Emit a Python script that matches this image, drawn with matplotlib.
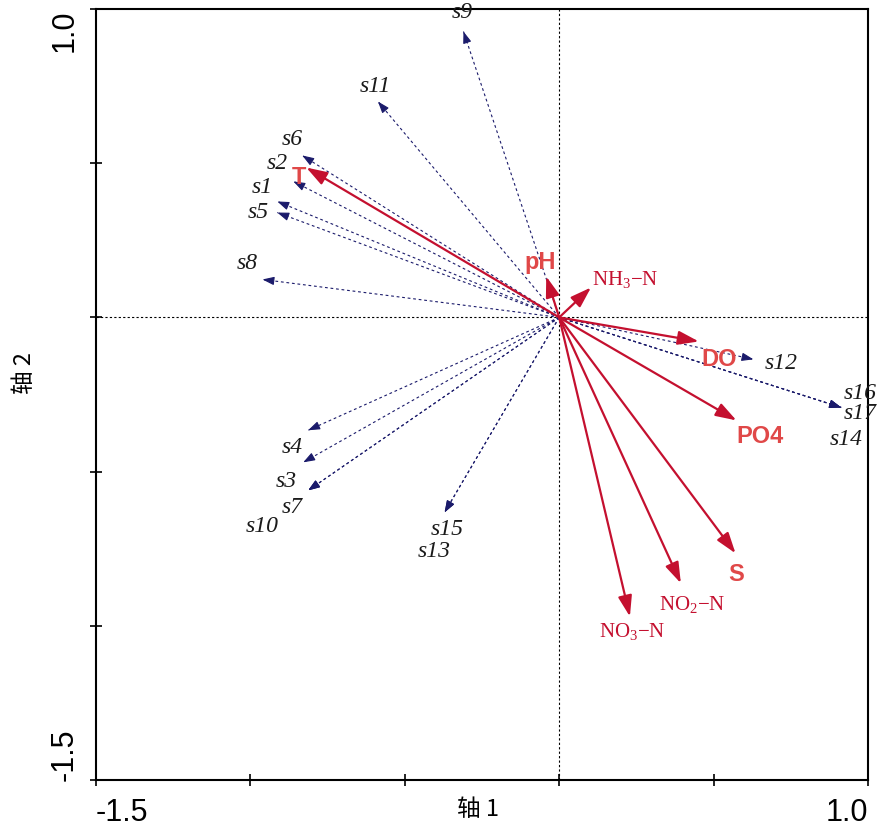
import matplotlib
matplotlib.use("Agg")
import matplotlib.pyplot as plt
import numpy as np

plt.rcParams['font.family'] = ['Liberation Sans', 'DejaVu Sans']
plt.rcParams['mathtext.fontset'] = 'custom'
plt.rcParams['mathtext.rm'] = 'Liberation Serif'
plt.rcParams['mathtext.it'] = 'Liberation Serif:italic'

# sample scores (tip of the dashed arrows)
sites = ['s1', 's2', 's3', 's4', 's5', 's6', 's7', 's8', 's9', 's10',
         's11', 's12', 's13', 's14', 's15', 's16', 's17']
site_x = [-0.913, -0.861, -0.829, -0.813, -0.913, -0.832, -0.813, -0.961, -0.310, -0.813,
          -0.587, 0.629, -0.371, 0.913, -0.371, 0.913, 0.913]
site_y = [0.376, 0.441, -0.470, -0.366, 0.340, 0.525, -0.561, 0.123, 0.927, -0.561,
          0.700, -0.136, -0.632, -0.292, -0.632, -0.292, -0.292]

# environmental variables (red arrows)
env_names = ['T', 'pH', r'$\mathrm{NH_3}$−N', 'DO', 'PO4', 'S', r'$\mathrm{NO_2}$−N', r'$\mathrm{NO_3}$−N']
env_x = [-0.819, -0.042, 0.103, 0.452, 0.574, 0.571, 0.394, 0.229]
env_y = [0.486, 0.133, 0.097, -0.078, -0.334, -0.765, -0.862, -0.970]

xticks = [-1.5, -1.0, -0.5, 0.0, 0.5, 1.0]
xtick_labels = ['-1.5', '', '', '', '', '1.0']
yticks = [-1.5, -1.0, -0.5, 0.0, 0.5, 1.0]
ytick_labels = ['-1.5', '', '', '', '', '1.0']

# label offsets in pixels (dx, dy up)
site_off = {'s1': (-15, 15), 's2': (-16, 19), 's3': (-17, -18), 's4': (-16, -16),
            's5': (-19, 1), 's6': (-10, 17), 's7': (-16, -16), 's8': (-15, 17),
            's9': (-1, 20), 's10': (-46, -35), 's11': (-3, 16), 's12': (28, -3),
            's13': (-10, -38), 's14': (5, -31), 's15': (3, -16), 's16': (19, 15),
            's17': (19, -5)}
env_off = [(-7, -9), (-6, 15), (34, 9), (20, -17), (24, -15), (1, -20), (11, -20), (2, -14)]
env_bold = [True, True, False, True, True, True, False, False]

fig = plt.figure(figsize=(8.82, 8.28), dpi=100)
ax = fig.add_axes([96 / 882, 1 - 781 / 828, 772 / 882, 771 / 828])
ax.set_xlim(-1.5, 1.0)
ax.set_ylim(-1.5, 1.0)

ax.axhline(0, color='black', ls=(0, (2, 2)), lw=0.8, zorder=1)
ax.axvline(0, color='black', ls=(0, (2, 2)), lw=0.8, zorder=1)

navy = '#1b1b6b'
px2pt = 0.72
for name, x, y in zip(sites, site_x, site_y):
    ax.plot([0, x], [0, y], color=navy, ls=(0, (2.5, 2.5)), lw=0.8, zorder=2)
    back = 0.03 / np.hypot(x, y)
    ax.annotate('', xy=(x, y), xytext=(x * (1 - back), y * (1 - back)),
                arrowprops=dict(arrowstyle='-|>,head_length=0.7,head_width=0.25',
                                color=navy, lw=0.8, shrinkA=0, shrinkB=0,
                                mutation_scale=10), zorder=3)
    dx, dy = site_off[name]
    ax.annotate(name, xy=(x, y), xytext=(dx * px2pt, dy * px2pt),
                textcoords='offset points', ha='center', va='center',
                fontsize=17, style='italic', family='Liberation Serif',
                color='#1a1a1a', annotation_clip=False, zorder=4)

red = '#c4102f'
for i, (name, x, y) in enumerate(zip(env_names, env_x, env_y)):
    ax.annotate('', xy=(x, y), xytext=(0, 0),
                arrowprops=dict(arrowstyle='-|>,head_length=0.9,head_width=0.3',
                                color=red, lw=1.6, shrinkA=0, shrinkB=0,
                                mutation_scale=14), zorder=5)
    dx, dy = env_off[i]
    if env_bold[i]:
        ax.annotate(name, xy=(x, y), xytext=(dx * px2pt, dy * px2pt),
                    textcoords='offset points', ha='center', va='center',
                    fontsize=17, fontweight='bold', color='#e04848', zorder=6)
    else:
        ax.annotate(name, xy=(x, y), xytext=(dx * px2pt, dy * px2pt),
                    textcoords='offset points', ha='center', va='center',
                    fontsize=15, family='Liberation Serif', color=red, zorder=6)

ax.set_xticks(xticks)
ax.set_xticklabels(xtick_labels, fontsize=22)
ax.set_yticks(yticks)
ax.set_yticklabels(ytick_labels, fontsize=22, rotation=90)
ax.get_xticklabels()[0].set_ha('left')
ax.get_xticklabels()[-1].set_ha('right')
ax.get_yticklabels()[0].set_va('bottom')
ax.get_yticklabels()[-1].set_va('top')
ax.tick_params(direction='inout', length=8, width=1.2, pad=8)
for sp in ax.spines.values():
    sp.set_linewidth(1.5)

ax.set_xlabel('轴 1', fontsize=17, family=['Noto Sans CJK SC', 'DejaVu Sans'], va='center')
ax.xaxis.set_label_coords(0.495, -0.037)
ax.set_ylabel('轴 2', fontsize=17, family=['Noto Sans CJK SC', 'DejaVu Sans'], va='center')
ax.yaxis.set_label_coords(-0.093, 0.529)

fig.savefig('out.png', dpi=100)
